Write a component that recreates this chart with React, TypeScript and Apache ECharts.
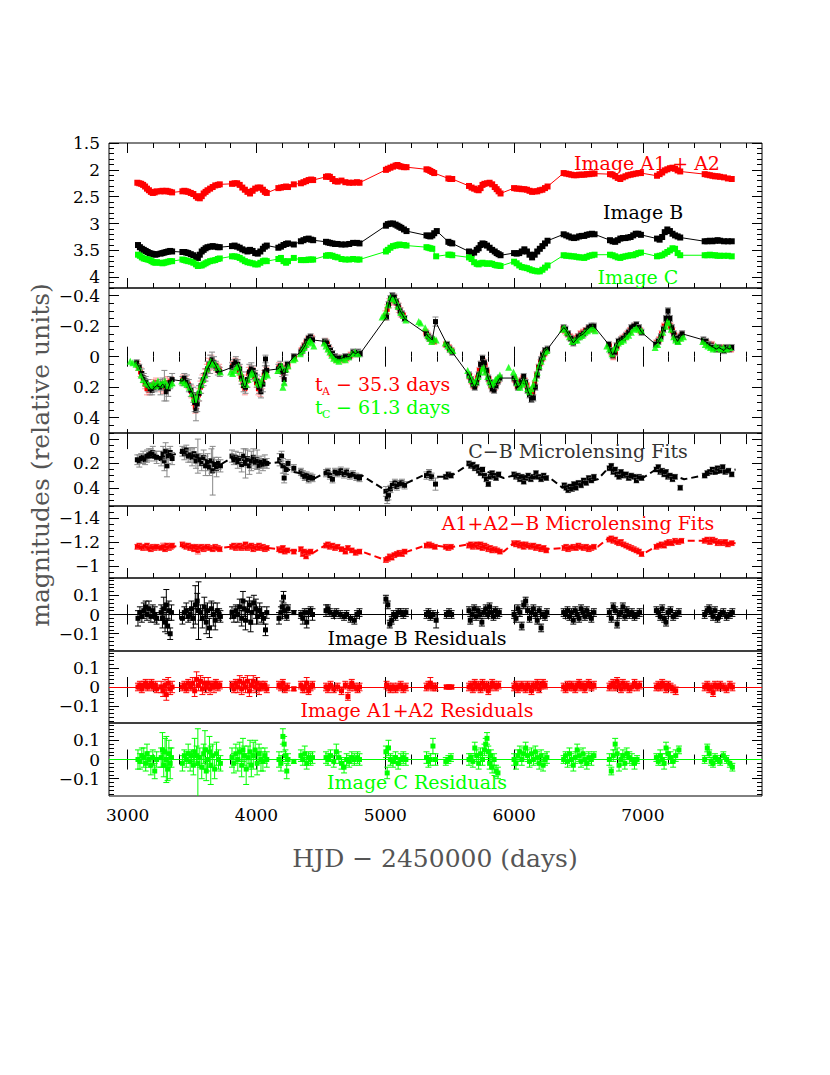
import React, { useEffect, useRef } from 'react';
import * as echarts from 'echarts';

// ---------------- DATA ----------------
const X_MIN = 2855;
const X_MAX = 7925;
const X_MAJOR_STEP = 1000;
const X_MINOR_STEP = 200;

// Panel 1: light curves [HJD-2450000, mag]
const MAG_A: number[][] = [
  [3075,2.24],[3090,2.25],[3105,2.26],[3120,2.28],[3135,2.31],[3150,2.35],[3165,2.38],[3180,2.41],[3195,2.43],[3210,2.42],[3225,2.40],
  [3255,2.40],[3270,2.39],[3285,2.40],[3300,2.39],[3315,2.40],[3330,2.41],[3345,2.42],
  [3425,2.40],[3440,2.39],[3455,2.40],[3470,2.41],[3490,2.43],[3510,2.45],[3530,2.49],[3545,2.52],[3560,2.53],[3575,2.49],[3590,2.44],[3605,2.41],[3620,2.38],[3640,2.35],[3660,2.32],[3680,2.29],[3700,2.28],[3715,2.27],
  [3810,2.26],[3830,2.25],[3850,2.25],[3870,2.28],[3890,2.33],[3910,2.37],[3930,2.41],[3950,2.44],[3970,2.39],[3990,2.35],[4010,2.33],[4030,2.33],[4050,2.37],[4065,2.41],[4080,2.43],
  [4170,2.34],[4190,2.33],[4210,2.32],[4230,2.31],[4245,2.32],
  [4290,2.27],
  [4345,2.25],[4365,2.23],[4385,2.21],[4405,2.19],[4425,2.18],[4440,2.19],
  [4540,2.13],[4555,2.12],[4570,2.13],[4590,2.17],[4610,2.21],[4630,2.22],[4660,2.20],[4690,2.23],[4720,2.24],[4750,2.24],[4780,2.23],[4800,2.24],
  [5005,2.00],[5020,1.98],[5040,1.96],[5060,1.94],[5080,1.92],[5095,1.91],[5110,1.93],[5125,1.94],[5145,1.95],[5165,1.95],
  [5320,1.99],[5335,2.00],[5350,2.02],[5365,2.04],[5380,2.06],
  [5490,2.16],[5505,2.17],[5520,2.17],
  [5650,2.30],[5670,2.33],[5690,2.35],[5710,2.37],[5725,2.38],[5740,2.34],[5755,2.28],[5770,2.26],[5790,2.25],[5810,2.24],[5830,2.27],[5850,2.32],[5865,2.36],[5880,2.40],[5895,2.44],
  [6000,2.34],[6020,2.35],[6040,2.35],[6060,2.36],[6080,2.36],[6100,2.37],[6120,2.39],[6140,2.41],[6160,2.40],[6180,2.40],[6200,2.38],[6220,2.37],[6240,2.34],[6260,2.31],
  [6385,2.06],[6405,2.07],[6425,2.08],[6445,2.09],[6465,2.10],[6485,2.10],[6505,2.09],[6525,2.09],[6545,2.09],[6565,2.08],[6585,2.08],[6605,2.07],[6625,2.07],
  [6745,2.08],[6765,2.09],[6785,2.12],[6805,2.15],[6825,2.17],[6845,2.14],[6865,2.12],[6885,2.10],[6905,2.09],[6925,2.08],[6945,2.07],[6965,2.06],[6985,2.06],
  [7110,2.11],[7130,2.08],[7150,2.05],[7170,2.01],[7190,1.99],[7210,1.97],[7230,1.96],[7250,1.98],[7270,2.01],[7290,2.03],
  [7480,2.08],[7500,2.09],[7520,2.10],[7540,2.11],[7560,2.12],[7580,2.12],[7600,2.13],[7630,2.14],[7660,2.16],[7690,2.17],
];
const MAG_B: number[][] = [
  [3080,3.40],[3095,3.44],[3110,3.47],[3125,3.49],[3140,3.51],[3155,3.53],[3170,3.55],[3185,3.56],[3200,3.57],[3215,3.58],[3228,3.57],
  [3255,3.56],[3270,3.55],[3285,3.54],[3300,3.53],[3315,3.52],[3330,3.51],[3345,3.52],
  [3425,3.53],[3440,3.53],[3455,3.54],[3470,3.55],[3490,3.57],[3510,3.59],[3530,3.62],[3545,3.64],[3560,3.58],[3575,3.52],[3590,3.49],[3605,3.46],[3620,3.44],[3640,3.43],[3660,3.42],[3680,3.43],[3700,3.44],[3715,3.44],
  [3810,3.42],[3830,3.41],[3850,3.43],[3870,3.45],[3890,3.48],[3910,3.50],[3930,3.52],[3950,3.49],[3970,3.51],[3990,3.55],[4010,3.56],[4030,3.52],[4050,3.47],[4065,3.43],[4080,3.41],
  [4170,3.45],[4190,3.43],[4210,3.40],[4230,3.38],[4245,3.37],
  [4290,3.39],
  [4345,3.33],[4365,3.31],[4385,3.29],[4405,3.28],[4425,3.30],[4440,3.31],
  [4540,3.34],[4555,3.35],[4570,3.36],[4590,3.37],[4610,3.38],[4630,3.38],[4660,3.39],[4690,3.39],[4720,3.38],[4750,3.36],[4780,3.36],[4800,3.37],
  [5005,3.04],[5020,3.01],[5040,3.00],[5060,3.00],[5080,3.02],[5095,3.04],[5110,3.06],[5125,3.08],[5145,3.11],[5165,3.14],
  [5320,3.22],[5335,3.23],[5350,3.24],[5365,3.22],[5380,3.18],[5400,3.14],
  [5490,3.34],[5505,3.36],[5520,3.37],
  [5650,3.52],[5670,3.56],[5690,3.54],[5710,3.49],[5725,3.46],[5740,3.40],[5755,3.37],[5770,3.38],[5790,3.41],[5810,3.45],[5830,3.49],[5850,3.52],[5865,3.55],[5880,3.57],[5895,3.59],
  [6000,3.55],[6020,3.56],[6040,3.55],[6060,3.52],[6080,3.48],[6100,3.52],[6120,3.58],[6140,3.63],[6160,3.58],[6180,3.52],[6200,3.47],[6220,3.42],[6240,3.37],[6260,3.32],
  [6385,3.20],[6405,3.22],[6425,3.24],[6445,3.26],[6465,3.27],[6485,3.26],[6505,3.24],[6525,3.23],[6545,3.23],[6565,3.21],[6585,3.20],[6605,3.19],[6625,3.20],
  [6745,3.31],[6765,3.33],[6785,3.34],[6805,3.31],[6825,3.28],[6845,3.27],[6865,3.27],[6885,3.26],[6905,3.25],[6925,3.22],[6945,3.19],[6965,3.19],[6985,3.21],
  [7110,3.28],[7130,3.30],[7150,3.25],[7170,3.16],[7190,3.11],[7210,3.14],[7230,3.19],[7250,3.22],[7270,3.24],[7290,3.26],
  [7480,3.33],[7500,3.33],[7520,3.32],[7540,3.33],[7560,3.32],[7580,3.31],[7600,3.32],[7630,3.33],[7660,3.33],[7690,3.33],
];
const MAG_C: number[][] = [
  [3080,3.58],[3095,3.60],[3110,3.63],[3125,3.65],[3140,3.66],[3155,3.67],[3170,3.68],[3185,3.70],[3200,3.72],[3215,3.73],[3228,3.72],
  [3255,3.73],[3270,3.74],[3285,3.73],[3300,3.72],[3315,3.71],[3330,3.70],[3345,3.70],
  [3425,3.67],[3440,3.68],[3455,3.69],[3470,3.70],[3490,3.71],[3510,3.73],[3530,3.76],[3545,3.79],[3560,3.78],[3575,3.78],[3590,3.76],[3605,3.74],[3620,3.72],[3640,3.70],[3660,3.69],[3680,3.68],[3700,3.66],[3715,3.65],
  [3810,3.61],[3830,3.61],[3850,3.62],[3870,3.64],[3890,3.67],[3910,3.70],[3930,3.72],[3950,3.73],[3970,3.74],[3990,3.76],[4010,3.76],[4030,3.73],[4050,3.70],[4065,3.69],[4080,3.70],
  [4170,3.66],[4190,3.64],[4210,3.70],[4230,3.73],[4245,3.70],
  [4290,3.64],
  [4345,3.68],[4365,3.68],[4385,3.68],[4405,3.67],[4425,3.67],[4440,3.67],
  [4540,3.60],[4555,3.59],[4570,3.59],[4590,3.60],[4610,3.62],[4630,3.63],[4660,3.66],[4690,3.67],[4720,3.67],[4750,3.66],[4780,3.67],[4800,3.67],
  [5005,3.52],[5020,3.49],[5040,3.45],[5060,3.42],[5080,3.41],[5095,3.40],[5110,3.39],[5125,3.40],[5145,3.40],[5165,3.41],
  [5320,3.44],[5335,3.45],[5350,3.46],[5365,3.47],[5395,3.61],
  [5490,3.58],[5505,3.58],[5520,3.59],
  [5650,3.63],[5670,3.66],[5690,3.72],[5710,3.75],[5725,3.76],[5740,3.74],[5755,3.73],[5770,3.74],[5790,3.75],[5810,3.74],[5830,3.75],[5850,3.77],[5865,3.78],[5880,3.78],[5895,3.79],
  [6000,3.71],[6020,3.74],[6040,3.78],[6060,3.81],[6080,3.82],[6100,3.83],[6120,3.85],[6140,3.87],[6160,3.88],[6180,3.89],[6200,3.89],[6220,3.86],[6240,3.82],[6260,3.78],
  [6385,3.59],[6405,3.60],[6425,3.60],[6445,3.61],[6465,3.61],[6485,3.62],[6505,3.63],[6525,3.63],[6545,3.64],[6565,3.62],[6585,3.60],[6605,3.59],[6625,3.58],
  [6745,3.58],[6765,3.59],[6785,3.61],[6805,3.63],[6825,3.64],[6845,3.62],[6865,3.61],[6885,3.60],[6905,3.59],[6925,3.59],[6945,3.57],[6965,3.55],[6985,3.54],
  [7110,3.61],[7130,3.60],[7150,3.59],[7170,3.56],[7190,3.53],[7210,3.50],[7230,3.46],[7250,3.47],[7270,3.55],[7290,3.59],
  [7480,3.59],[7500,3.59],[7520,3.58],[7540,3.59],[7560,3.59],[7580,3.60],[7600,3.60],[7630,3.60],[7660,3.60],[7690,3.61],
];

// Panel 2: shifted curves [x, value, error]
const SHIFT_B: number[][] = [
  [3070,0.04,0.02],[3090,0.07,0.02],[3110,0.11,0.03],[3125,0.14,0.03],[3140,0.16,0.03],[3160,0.19,0.04],[3175,0.21,0.04],[3190,0.22,0.03],[3210,0.20,0.03],[3225,0.19,0.03],
  [3255,0.20,0.05],[3270,0.18,0.04],[3285,0.19,0.10],[3300,0.23,0.06],[3315,0.21,0.05],[3330,0.17,0.04],[3345,0.15,0.04],
  [3425,0.16,0.03],[3440,0.14,0.03],[3460,0.16,0.04],[3475,0.19,0.04],[3490,0.22,0.04],
  [3510,0.25,0.05],[3520,0.30,0.06],[3530,0.35,0.07],[3540,0.31,0.05],[3555,0.24,0.05],[3570,0.19,0.05],[3590,0.15,0.04],[3605,0.12,0.04],[3620,0.08,0.05],[3640,0.05,0.06],[3655,0.02,0.05],[3670,0.04,0.04],[3685,0.06,0.03],[3700,0.09,0.03],[3715,0.10,0.03],
  [3810,0.07,0.03],[3825,0.05,0.03],[3840,0.03,0.03],[3855,0.05,0.03],[3870,0.08,0.03],[3885,0.14,0.04],[3900,0.19,0.04],[3915,0.20,0.04],[3930,0.15,0.05],[3945,0.10,0.05],[3960,0.08,0.04],[3975,0.09,0.03],[3990,0.12,0.03],[4005,0.16,0.04],[4020,0.20,0.04],[4035,0.23,0.04],[4050,0.18,0.05],[4065,0.10,0.04],[4070,0.015,0.025],[4080,0.09,0.03],
  [4170,0.08,0.03],[4185,0.06,0.03],[4200,0.10,0.03],[4215,0.15,0.03],[4225,0.09,0.03],[4240,0.05,0.02],
  [4290,0.00,0.02],
  [4345,-0.03,0.02],[4360,-0.05,0.02],[4375,-0.07,0.02],[4390,-0.10,0.02],[4405,-0.12,0.02],[4420,-0.13,0.02],[4435,-0.11,0.02],
  [4530,-0.10,0.02],[4545,-0.09,0.02],[4560,-0.06,0.02],[4575,-0.04,0.02],[4590,-0.02,0.02],[4610,0.00,0.02],[4630,0.01,0.02],[4660,0.01,0.02],[4690,0.00,0.02],[4720,0.00,0.02],[4750,-0.03,0.02],[4770,-0.02,0.02],[4790,-0.03,0.02],[4805,-0.02,0.02],
  [5010,-0.26,0.02],[5025,-0.34,0.02],[5040,-0.38,0.02],[5055,-0.40,0.02],[5070,-0.39,0.02],[5085,-0.36,0.02],[5100,-0.33,0.02],[5115,-0.30,0.02],[5130,-0.28,0.02],[5150,-0.25,0.02],
  [5320,-0.15,0.02],[5335,-0.13,0.02],[5350,-0.12,0.02],[5365,-0.11,0.02],[5390,-0.23,0.03],
  [5480,-0.08,0.02],[5500,-0.05,0.02],[5520,-0.03,0.02],
  [5650,0.12,0.02],[5665,0.15,0.02],[5680,0.18,0.02],[5695,0.20,0.02],[5710,0.17,0.02],[5725,0.12,0.02],[5740,0.05,0.02],[5755,0.01,0.02],[5770,0.04,0.02],[5785,0.09,0.02],[5800,0.14,0.02],[5815,0.17,0.02],[5830,0.21,0.02],[5845,0.22,0.02],[5860,0.19,0.02],[5875,0.16,0.02],[5890,0.14,0.02],
  [6000,0.14,0.02],[6015,0.17,0.02],[6030,0.20,0.02],[6045,0.19,0.02],[6060,0.16,0.02],[6075,0.13,0.02],[6090,0.17,0.02],[6105,0.22,0.02],[6120,0.25,0.02],[6135,0.28,0.02],[6150,0.27,0.02],[6165,0.20,0.02],[6180,0.12,0.02],[6195,0.07,0.02],[6210,0.02,0.02],[6225,-0.01,0.02],[6240,-0.04,0.02],[6260,-0.05,0.02],
  [6385,-0.19,0.02],[6400,-0.18,0.02],[6420,-0.15,0.02],[6440,-0.12,0.02],[6460,-0.09,0.02],[6480,-0.11,0.02],[6500,-0.13,0.02],[6520,-0.14,0.02],[6540,-0.15,0.02],[6560,-0.17,0.02],[6580,-0.19,0.02],[6600,-0.20,0.02],[6620,-0.20,0.02],
  [6735,-0.08,0.02],[6750,-0.04,0.02],[6765,-0.01,0.02],[6780,-0.03,0.02],[6795,-0.07,0.02],[6810,-0.10,0.02],[6830,-0.11,0.02],[6850,-0.12,0.02],[6870,-0.14,0.02],[6890,-0.16,0.02],[6910,-0.19,0.02],[6930,-0.20,0.02],[6950,-0.21,0.02],[6970,-0.19,0.02],[6990,-0.16,0.02],
  [7100,-0.08,0.02],[7120,-0.10,0.02],[7140,-0.13,0.02],[7160,-0.18,0.02],[7180,-0.25,0.02],[7195,-0.30,0.02],[7210,-0.25,0.02],[7225,-0.19,0.02],[7240,-0.15,0.02],[7255,-0.12,0.02],[7270,-0.10,0.02],[7290,-0.13,0.02],[7305,-0.15,0.02],
  [7470,-0.11,0.02],[7490,-0.10,0.02],[7510,-0.08,0.02],[7530,-0.07,0.02],[7550,-0.06,0.02],[7570,-0.05,0.02],[7590,-0.06,0.02],[7610,-0.05,0.02],[7630,-0.04,0.02],[7650,-0.06,0.02],[7670,-0.05,0.02],[7690,-0.06,0.02],
];
const SHIFT_A: number[][] = [
  [3080,0.06,0.03],[3100,0.10,0.03],[3120,0.14,0.03],[3135,0.18,0.03],[3150,0.21,0.04],[3165,0.22,0.03],[3180,0.20,0.03],[3200,0.18,0.03],[3220,0.17,0.03],
  [3260,0.19,0.04],[3280,0.20,0.04],[3295,0.18,0.04],[3310,0.17,0.04],[3335,0.16,0.03],
  [3430,0.15,0.03],[3450,0.16,0.03],[3470,0.18,0.03],[3495,0.23,0.04],[3515,0.28,0.04],[3525,0.33,0.04],[3535,0.30,0.04],[3550,0.25,0.04],[3565,0.20,0.04],[3580,0.16,0.04],[3600,0.12,0.04],[3615,0.09,0.04],[3630,0.05,0.04],[3650,0.03,0.04],[3665,0.05,0.03],[3690,0.07,0.03],[3710,0.08,0.03],
  [3815,0.06,0.03],[3835,0.04,0.03],[3850,0.05,0.03],[3865,0.09,0.03],[3880,0.13,0.03],[3895,0.17,0.03],[3910,0.21,0.04],[3925,0.16,0.04],[3940,0.11,0.04],[3955,0.09,0.03],[3970,0.10,0.03],[3985,0.13,0.03],[4000,0.17,0.03],[4015,0.21,0.04],[4030,0.22,0.04],[4045,0.17,0.04],[4060,0.12,0.03],[4075,0.10,0.03],
  [4175,0.07,0.03],[4195,0.08,0.03],[4210,0.11,0.03],[4230,0.07,0.03],[4245,0.06,0.02],
  [4295,0.01,0.02],
  [4350,-0.04,0.02],[4370,-0.07,0.02],[4385,-0.09,0.02],[4400,-0.11,0.02],[4415,-0.12,0.02],[4430,-0.12,0.02],
  [4535,-0.10,0.02],[4550,-0.08,0.02],[4565,-0.05,0.02],[4580,-0.02,0.02],[4600,0.00,0.02],[4620,0.02,0.02],[4645,0.01,0.02],[4670,0.02,0.02],[4700,0.01,0.02],[4730,-0.01,0.02],[4760,-0.02,0.02],[4785,-0.02,0.02],
  [5000,-0.27,0.03],[5015,-0.31,0.03],[5030,-0.35,0.03],[5045,-0.37,0.03],[5060,-0.38,0.03],[5075,-0.37,0.03],[5090,-0.35,0.03],[5105,-0.32,0.03],[5120,-0.29,0.03],[5140,-0.27,0.02],
  [5315,-0.16,0.02],[5330,-0.14,0.02],[5345,-0.12,0.02],[5360,-0.11,0.02],[5380,-0.10,0.02],
  [5470,-0.08,0.02],[5495,-0.06,0.02],[5515,-0.04,0.02],
  [5655,0.13,0.02],[5670,0.16,0.02],[5685,0.19,0.02],[5700,0.18,0.02],[5715,0.14,0.02],[5730,0.09,0.02],[5745,0.05,0.02],[5760,0.03,0.02],[5775,0.06,0.02],[5790,0.10,0.02],[5805,0.15,0.02],[5820,0.19,0.02],[5835,0.21,0.02],[5850,0.20,0.02],[5865,0.17,0.02],[5880,0.15,0.02],
  [6005,0.15,0.02],[6025,0.19,0.02],[6040,0.18,0.02],[6055,0.16,0.02],[6070,0.14,0.02],[6085,0.16,0.02],[6100,0.19,0.02],[6115,0.22,0.02],[6130,0.24,0.02],[6145,0.23,0.02],[6160,0.18,0.02],[6175,0.12,0.02],[6190,0.07,0.02],[6205,0.04,0.02],[6220,0.01,0.02],[6235,-0.02,0.02],[6250,-0.04,0.02],
  [6380,-0.18,0.02],[6395,-0.17,0.02],[6415,-0.15,0.02],[6435,-0.13,0.02],[6455,-0.10,0.02],[6475,-0.12,0.02],[6495,-0.13,0.02],[6515,-0.15,0.02],[6535,-0.16,0.02],[6555,-0.17,0.02],[6575,-0.18,0.02],[6595,-0.19,0.02],[6615,-0.18,0.02],
  [6740,-0.07,0.02],[6755,-0.03,0.02],[6770,0.00,0.02],[6785,-0.03,0.02],[6800,-0.07,0.02],[6820,-0.10,0.02],[6840,-0.12,0.02],[6860,-0.13,0.02],[6880,-0.15,0.02],[6900,-0.17,0.02],[6920,-0.19,0.02],[6940,-0.20,0.02],[6960,-0.19,0.02],[6980,-0.17,0.02],
  [7105,-0.09,0.02],[7125,-0.11,0.02],[7145,-0.15,0.02],[7165,-0.20,0.02],[7185,-0.24,0.02],[7200,-0.22,0.02],[7215,-0.20,0.02],[7230,-0.17,0.02],[7245,-0.14,0.02],[7260,-0.12,0.02],[7280,-0.12,0.02],[7300,-0.14,0.02],
  [7475,-0.10,0.02],[7495,-0.09,0.02],[7515,-0.08,0.02],[7535,-0.08,0.02],[7555,-0.06,0.02],[7575,-0.06,0.02],[7595,-0.05,0.02],[7615,-0.06,0.02],[7640,-0.05,0.02],[7665,-0.06,0.02],[7685,-0.05,0.02],
];
const SHIFT_C: number[][] = [
  [3020,0.03],[3040,0.04],[3065,0.05],[3085,0.07],[3105,0.12],[3120,0.15],[3140,0.17],[3160,0.18],[3180,0.19],[3200,0.17],[3220,0.19],[3235,0.16],
  [3255,0.18],[3270,0.17],[3290,0.16],[3310,0.19],[3330,0.18],[3345,0.17],
  [3420,0.16],[3440,0.17],[3460,0.18],[3480,0.20],[3500,0.24],[3515,0.27],[3525,0.28],[3540,0.26],[3555,0.22],[3570,0.18],[3585,0.15],[3600,0.12],[3615,0.08],[3630,0.05],[3645,0.03],[3660,0.04],[3680,0.05],[3700,0.07],[3720,0.10],
  [3800,0.10],[3815,0.11],[3830,0.09],[3845,0.07],[3860,0.06],[3875,0.10],[3890,0.14],[3905,0.17],[3920,0.18],[3935,0.15],[3950,0.12],[3965,0.10],[3980,0.11],[3995,0.14],[4010,0.17],[4025,0.18],[4040,0.16],[4055,0.13],[4070,0.11],[4085,0.12],
  [4165,0.09],[4180,0.07],[4195,0.06],[4205,0.20],[4215,0.17],[4230,0.08],[4245,0.06],
  [4285,0.02],[4300,0.01],
  [4340,-0.02],[4355,-0.04],[4370,-0.06],[4385,-0.08],[4400,-0.10],[4415,-0.11],[4430,-0.09],[4445,-0.07],
  [4525,-0.09],[4540,-0.07],[4555,-0.05],[4570,-0.03],[4585,-0.01],[4600,0.01],[4620,0.02],[4640,0.03],[4665,0.01],[4690,0.02],[4715,0.00],[4740,-0.02],[4765,-0.03],[4790,-0.02],
  [4975,-0.26],[4990,-0.27],[5005,-0.30],[5020,-0.34],[5040,-0.39],[5060,-0.38],[5080,-0.37],[5100,-0.33],[5120,-0.29],[5140,-0.27],[5160,-0.24],
  [5260,-0.23],[5275,-0.22],[5310,-0.19],[5330,-0.14],[5345,-0.12],[5360,-0.10],[5375,-0.12],[5395,-0.11],
  [5465,-0.09],[5485,-0.07],[5505,-0.05],[5525,-0.04],
  [5640,0.09],[5655,0.12],[5670,0.15],[5690,0.17],[5705,0.16],[5720,0.13],[5735,0.10],[5750,0.08],[5765,0.07],[5780,0.10],[5795,0.13],[5810,0.16],[5825,0.18],[5840,0.17],[5855,0.15],[5870,0.14],[5890,0.12],[5958,0.07],
  [5995,0.10],[6010,0.13],[6025,0.17],[6045,0.20],[6060,0.18],[6075,0.15],[6090,0.17],[6105,0.21],[6120,0.23],[6135,0.21],[6150,0.18],[6165,0.14],[6180,0.10],[6195,0.06],[6210,0.03],[6225,0.00],[6240,-0.03],[6255,-0.04],
  [6375,-0.18],[6390,-0.19],[6410,-0.16],[6430,-0.13],[6450,-0.10],[6470,-0.11],[6490,-0.11],[6510,-0.13],[6530,-0.14],[6550,-0.16],[6570,-0.17],[6590,-0.18],[6610,-0.19],[6630,-0.17],
  [6720,-0.07],[6740,-0.05],[6760,-0.02],[6775,-0.05],[6790,-0.06],[6810,-0.09],[6830,-0.10],[6850,-0.11],[6870,-0.13],[6890,-0.14],[6910,-0.16],[6930,-0.18],[6950,-0.19],[6970,-0.18],[6990,-0.17],
  [7095,-0.06],[7115,-0.08],[7135,-0.12],[7155,-0.16],[7175,-0.20],[7190,-0.23],[7205,-0.22],[7220,-0.18],[7240,-0.13],[7255,-0.11],[7275,-0.10],[7295,-0.12],[7315,-0.13],
  [7465,-0.10],[7485,-0.08],[7505,-0.07],[7525,-0.06],[7545,-0.05],[7565,-0.07],[7585,-0.06],[7605,-0.05],[7625,-0.06],[7650,-0.05],[7675,-0.06],
];

// Panel 3: C-B microlensing [x, value, error] and fit
const CB_PTS: number[][] = [
  [3075,0.17,0.04],[3090,0.18,0.05],[3105,0.16,0.04],[3120,0.15,0.05],[3135,0.17,0.04],[3150,0.14,0.05],[3165,0.13,0.05],[3180,0.12,0.04],[3195,0.11,0.05],[3210,0.14,0.04],[3225,0.15,0.05],
  [3260,0.16,0.06],[3275,0.12,0.06],[3285,0.18,0.08],[3295,0.10,0.07],[3305,0.22,0.09],[3315,0.14,0.06],[3330,0.11,0.05],[3345,0.16,0.05],
  [3425,0.10,0.04],[3440,0.12,0.05],[3455,0.09,0.04],[3470,0.14,0.05],[3485,0.13,0.06],[3500,0.15,0.07],
  [3515,0.12,0.05],[3530,0.18,0.06],[3545,0.14,0.14],[3560,0.17,0.05],[3575,0.20,0.06],[3590,0.15,0.06],[3605,0.22,0.08],[3620,0.19,0.07],[3635,0.23,0.07],[3650,0.18,0.10],[3660,0.26,0.20],[3675,0.21,0.06],[3690,0.24,0.07],[3705,0.20,0.05],[3720,0.22,0.05],
  [3810,0.14,0.05],[3825,0.17,0.04],[3840,0.15,0.05],[3855,0.19,0.05],[3870,0.16,0.05],[3885,0.21,0.06],[3900,0.14,0.06],[3915,0.20,0.12],[3930,0.16,0.07],[3945,0.22,0.07],[3960,0.18,0.08],[3975,0.15,0.07],[3990,0.19,0.05],[4005,0.17,0.08],[4020,0.22,0.06],[4035,0.19,0.05],[4050,0.21,0.05],[4065,0.18,0.05],[4080,0.20,0.04],
  [4180,0.17,0.05],[4195,0.14,0.04],[4205,0.22,0.06],[4215,0.32,0.04],[4230,0.25,0.04],[4245,0.20,0.03],
  [4290,0.24,0.03],
  [4345,0.27,0.03],[4360,0.29,0.03],[4375,0.31,0.03],[4390,0.30,0.03],[4405,0.33,0.03],[4420,0.31,0.03],[4435,0.32,0.03],
  [4540,0.28,0.03],[4555,0.27,0.03],[4570,0.30,0.03],[4590,0.33,0.03],[4610,0.27,0.03],[4630,0.28,0.03],[4655,0.26,0.03],[4680,0.29,0.03],[4700,0.27,0.03],[4725,0.30,0.03],[4750,0.29,0.03],[4775,0.31,0.03],[4800,0.32,0.03],
  [5005,0.43,0.04],[5015,0.49,0.04],[5025,0.46,0.04],[5040,0.41,0.03],[5055,0.38,0.03],[5075,0.36,0.03],[5090,0.39,0.03],[5110,0.37,0.03],[5130,0.36,0.03],[5150,0.38,0.03],
  [5320,0.30,0.03],[5340,0.28,0.03],[5360,0.31,0.03],[5390,0.37,0.05],
  [5470,0.31,0.02],[5490,0.29,0.02],[5510,0.30,0.02],
  [5650,0.20,0.02],[5665,0.22,0.02],[5680,0.21,0.02],[5695,0.24,0.02],[5710,0.23,0.02],[5725,0.26,0.02],[5740,0.28,0.02],[5755,0.25,0.02],[5770,0.30,0.02],[5785,0.33,0.02],[5800,0.37,0.02],[5815,0.31,0.02],[5830,0.28,0.02],[5845,0.30,0.02],[5860,0.32,0.02],[5880,0.29,0.02],
  [6000,0.29,0.02],[6015,0.31,0.02],[6030,0.30,0.02],[6045,0.33,0.02],[6060,0.31,0.02],[6075,0.35,0.02],[6090,0.32,0.02],[6110,0.30,0.02],[6130,0.33,0.02],[6150,0.31,0.02],[6170,0.28,0.02],[6190,0.31,0.02],[6210,0.33,0.02],[6230,0.30,0.02],[6250,0.32,0.02],
  [6390,0.38,0.02],[6405,0.40,0.02],[6420,0.42,0.02],[6435,0.39,0.02],[6450,0.41,0.02],[6465,0.37,0.02],[6480,0.40,0.02],[6500,0.36,0.02],[6520,0.38,0.02],[6540,0.34,0.02],[6560,0.36,0.02],[6580,0.32,0.02],[6600,0.34,0.02],[6620,0.31,0.02],
  [6740,0.24,0.02],[6755,0.22,0.02],[6770,0.27,0.02],[6785,0.25,0.02],[6800,0.29,0.02],[6815,0.31,0.02],[6830,0.27,0.02],[6850,0.30,0.02],[6870,0.29,0.02],[6890,0.32,0.02],[6910,0.30,0.02],[6930,0.31,0.02],[6950,0.34,0.02],[6970,0.31,0.02],[6990,0.32,0.02],
  [7105,0.25,0.02],[7120,0.23,0.02],[7135,0.27,0.02],[7150,0.26,0.02],[7165,0.29,0.02],[7180,0.27,0.02],[7195,0.31,0.02],[7210,0.30,0.02],[7230,0.33,0.02],[7250,0.31,0.02],[7290,0.40,0.02],
  [7480,0.30,0.02],[7500,0.28,0.02],[7520,0.27,0.02],[7540,0.25,0.02],[7560,0.27,0.02],[7580,0.24,0.02],[7600,0.26,0.02],[7620,0.23,0.02],[7640,0.27,0.02],[7665,0.26,0.02],[7690,0.29,0.02],
];
const CB_FIT: number[][] = [
  [3070,0.17],[3230,0.14],[3250,0.15],[3350,0.13],[3420,0.11],[3720,0.21],[3800,0.16],[4090,0.20],[4170,0.19],[4250,0.25],[4290,0.27],[4340,0.28],[4440,0.33],[4530,0.28],[4820,0.30],[5000,0.42],[5170,0.36],[5310,0.29],[5400,0.31],[5465,0.31],[5530,0.29],[5645,0.21],[5920,0.32],[5995,0.30],[6280,0.32],[6375,0.40],[6650,0.33],[6730,0.24],[7000,0.32],[7100,0.25],[7320,0.33],[7470,0.30],[7720,0.25],
];

// Panel 4: A1+A2-B microlensing [x, value, error] and fit
const AB_PTS: number[][] = [
  [3075,-1.16,0.02],[3090,-1.17,0.02],[3105,-1.16,0.02],[3120,-1.15,0.02],[3135,-1.16,0.02],[3150,-1.17,0.02],[3165,-1.15,0.02],[3180,-1.14,0.02],[3195,-1.16,0.02],[3210,-1.15,0.02],[3225,-1.16,0.02],
  [3260,-1.15,0.02],[3275,-1.16,0.03],[3290,-1.14,0.02],[3305,-1.17,0.02],[3320,-1.15,0.02],[3335,-1.16,0.02],[3345,-1.17,0.02],
  [3425,-1.18,0.02],[3440,-1.17,0.02],[3455,-1.16,0.02],[3470,-1.17,0.02],[3485,-1.15,0.02],[3500,-1.16,0.02],[3515,-1.14,0.02],[3530,-1.16,0.02],[3545,-1.13,0.03],[3560,-1.15,0.02],[3575,-1.16,0.02],[3590,-1.14,0.02],[3605,-1.15,0.02],[3620,-1.16,0.02],[3640,-1.15,0.02],[3660,-1.14,0.02],[3680,-1.16,0.02],[3700,-1.15,0.02],[3715,-1.14,0.02],
  [3810,-1.16,0.02],[3825,-1.17,0.02],[3840,-1.15,0.02],[3855,-1.16,0.02],[3870,-1.17,0.02],[3885,-1.15,0.02],[3900,-1.16,0.02],[3915,-1.18,0.02],[3930,-1.15,0.02],[3945,-1.16,0.02],[3960,-1.17,0.02],[3975,-1.14,0.02],[3990,-1.16,0.02],[4005,-1.15,0.02],[4020,-1.17,0.02],[4035,-1.15,0.02],[4050,-1.16,0.02],[4065,-1.14,0.02],[4080,-1.15,0.02],
  [4175,-1.14,0.02],[4190,-1.13,0.02],[4205,-1.15,0.02],[4220,-1.12,0.02],[4240,-1.13,0.02],
  [4290,-1.12,0.02],
  [4345,-1.14,0.02],[4360,-1.10,0.02],[4370,-1.12,0.02],[4385,-1.08,0.02],[4400,-1.11,0.02],[4420,-1.12,0.02],
  [4540,-1.17,0.02],[4555,-1.18,0.02],[4570,-1.16,0.02],[4590,-1.17,0.02],[4610,-1.15,0.02],[4630,-1.16,0.02],[4660,-1.14,0.02],[4690,-1.12,0.02],[4710,-1.15,0.02],[4740,-1.13,0.02],[4770,-1.11,0.02],[4800,-1.12,0.02],
  [5005,-1.05,0.02],[5020,-1.06,0.02],[5035,-1.08,0.02],[5050,-1.07,0.02],[5070,-1.09,0.02],[5090,-1.10,0.02],[5110,-1.11,0.02],[5130,-1.10,0.02],[5150,-1.12,0.02],
  [5320,-1.17,0.02],[5340,-1.18,0.02],[5360,-1.17,0.02],[5385,-1.16,0.02],
  [5470,-1.16,0.02],[5490,-1.15,0.02],[5510,-1.16,0.02],
  [5650,-1.17,0.02],[5665,-1.18,0.02],[5680,-1.16,0.02],[5695,-1.17,0.02],[5710,-1.18,0.02],[5725,-1.16,0.02],[5740,-1.18,0.02],[5755,-1.15,0.02],[5770,-1.17,0.02],[5785,-1.16,0.02],[5800,-1.14,0.02],[5815,-1.15,0.02],[5830,-1.13,0.02],[5850,-1.14,0.02],[5870,-1.13,0.02],[5890,-1.12,0.02],
  [6000,-1.19,0.02],[6015,-1.18,0.02],[6030,-1.19,0.02],[6045,-1.17,0.02],[6060,-1.18,0.02],[6075,-1.16,0.02],[6090,-1.18,0.02],[6110,-1.17,0.02],[6130,-1.16,0.02],[6150,-1.17,0.02],[6170,-1.15,0.02],[6190,-1.16,0.02],[6210,-1.14,0.02],[6230,-1.15,0.02],[6250,-1.13,0.02],
  [6390,-1.15,0.02],[6405,-1.16,0.02],[6420,-1.14,0.02],[6440,-1.15,0.02],[6460,-1.16,0.02],[6480,-1.15,0.02],[6500,-1.17,0.02],[6520,-1.16,0.02],[6540,-1.15,0.02],[6560,-1.16,0.02],[6580,-1.14,0.02],[6600,-1.15,0.02],[6620,-1.16,0.02],
  [6740,-1.22,0.02],[6755,-1.23,0.02],[6770,-1.21,0.02],[6785,-1.22,0.02],[6800,-1.20,0.02],[6815,-1.19,0.02],[6830,-1.20,0.02],[6850,-1.18,0.02],[6870,-1.17,0.02],[6890,-1.16,0.02],[6910,-1.15,0.02],[6930,-1.14,0.02],[6950,-1.13,0.02],[6970,-1.12,0.02],[6990,-1.10,0.02],
  [7105,-1.16,0.02],[7125,-1.17,0.02],[7145,-1.18,0.02],[7165,-1.17,0.02],[7185,-1.19,0.02],[7205,-1.20,0.02],[7225,-1.19,0.02],[7250,-1.21,0.02],[7275,-1.20,0.02],[7300,-1.21,0.02],
  [7480,-1.21,0.02],[7500,-1.22,0.02],[7520,-1.20,0.02],[7540,-1.22,0.02],[7560,-1.21,0.02],[7580,-1.19,0.02],[7600,-1.20,0.02],[7620,-1.19,0.02],[7640,-1.20,0.02],[7660,-1.18,0.02],[7690,-1.19,0.02],
];
const AB_FIT: number[][] = [
  [3070,-1.16],[3230,-1.15],[3250,-1.16],[3350,-1.16],[3420,-1.17],[3720,-1.15],[3800,-1.16],[4090,-1.15],[4170,-1.14],[4250,-1.13],[4340,-1.13],[4440,-1.11],[4530,-1.17],[4820,-1.12],[5000,-1.05],[5170,-1.12],[5310,-1.17],[5400,-1.17],[5465,-1.16],[5530,-1.16],[5645,-1.18],[5920,-1.12],[5995,-1.19],[6280,-1.14],[6375,-1.15],[6650,-1.16],[6730,-1.23],[7000,-1.10],[7100,-1.16],[7320,-1.21],[7470,-1.21],[7720,-1.19],
];

// Panels 5-7: residuals [x, value, error]
const RES_B: number[][] = [
  [3080,-0.02,0.04],[3095,0.01,0.03],[3110,-0.01,0.03],[3125,0.02,0.04],[3140,0.04,0.03],[3150,0.00,0.03],[3165,0.03,0.04],[3180,-0.01,0.03],[3195,0.02,0.03],[3210,0.00,0.04],[3225,-0.02,0.03],
  [3260,0.01,0.04],[3270,-0.02,0.05],[3280,0.03,0.06],[3290,-0.04,0.05],[3300,0.05,0.08],[3310,-0.06,0.04],[3320,0.02,0.05],[3330,-0.10,0.03],[3340,0.01,0.04],
  [3425,-0.02,0.03],[3440,0.01,0.03],[3455,0.02,0.04],[3470,-0.01,0.03],[3485,0.00,0.03],[3495,0.03,0.04],
  [3510,-0.02,0.05],[3525,0.05,0.10],[3540,0.07,0.04],[3550,0.02,0.15],[3565,0.01,0.04],[3580,-0.02,0.05],[3595,0.04,0.05],[3610,-0.04,0.06],[3620,0.02,0.04],[3635,-0.07,0.05],[3650,0.03,0.04],[3665,0.00,0.06],[3680,-0.03,0.05],[3695,0.02,0.04],[3710,0.00,0.03],[3720,-0.01,0.03],
  [3810,0.01,0.03],[3825,-0.01,0.03],[3840,0.02,0.03],[3855,0.00,0.04],[3870,0.04,0.04],[3885,-0.02,0.04],[3895,0.07,0.05],[3905,0.03,0.04],[3915,-0.03,0.05],[3930,0.02,0.05],[3945,0.05,0.04],[3955,-0.04,0.05],[3965,0.01,0.06],[3980,0.06,0.04],[3995,0.03,0.05],[4010,-0.01,0.04],[4025,0.02,0.04],[4040,0.00,0.04],[4055,-0.02,0.03],[4070,-0.08,0.03],[4080,0.01,0.03],
  [4175,-0.02,0.03],[4190,0.01,0.03],[4200,0.04,0.03],[4210,0.09,0.03],[4220,0.02,0.03],[4235,-0.01,0.02],[4245,0.03,0.02],
  [4290,0.01,0.01],
  [4345,0.00,0.02],[4360,-0.02,0.03],[4375,0.01,0.02],[4390,-0.04,0.03],[4405,0.01,0.02],[4420,0.02,0.02],[4435,0.00,0.03],
  [4540,0.02,0.03],[4555,0.03,0.02],[4570,0.01,0.02],[4600,0.00,0.02],[4620,0.01,0.02],[4650,0.00,0.02],[4680,-0.01,0.02],[4700,0.00,0.02],[4730,-0.02,0.02],[4760,-0.03,0.02],[4780,0.00,0.02],[4800,0.01,0.02],
  [5005,0.08,0.02],[5020,0.05,0.02],[5035,-0.05,0.02],[5050,-0.03,0.02],[5065,0.00,0.02],[5080,-0.01,0.02],[5100,0.01,0.02],[5120,0.01,0.02],[5140,0.00,0.02],[5160,0.01,0.02],
  [5320,0.00,0.02],[5335,0.01,0.02],[5350,-0.01,0.02],[5370,0.00,0.02],[5395,-0.03,0.04],
  [5475,0.00,0.02],[5495,0.01,0.02],[5515,0.00,0.02],
  [5650,0.02,0.02],[5660,-0.03,0.02],[5675,0.00,0.02],[5690,0.03,0.02],[5705,-0.01,0.02],[5720,0.02,0.02],[5735,0.00,0.02],[5750,-0.04,0.02],[5765,0.01,0.02],[5780,0.03,0.02],[5795,0.00,0.02],[5810,0.04,0.02],[5825,0.01,0.02],[5840,-0.01,0.02],[5855,0.02,0.02],[5870,0.00,0.02],[5885,0.01,0.02],
  [6000,0.00,0.02],[6015,-0.02,0.02],[6030,0.03,0.02],[6045,0.01,0.02],[6060,-0.06,0.02],[6075,0.05,0.02],[6090,0.07,0.02],[6105,0.02,0.02],[6120,-0.02,0.02],[6135,0.01,0.02],[6150,0.03,0.02],[6165,0.00,0.02],[6180,-0.03,0.02],[6195,0.02,0.02],[6210,-0.07,0.02],[6225,0.00,0.02],[6240,-0.01,0.02],[6255,0.01,0.02],
  [6385,0.01,0.02],[6400,0.00,0.02],[6415,0.02,0.02],[6430,-0.01,0.02],[6445,0.01,0.02],[6460,-0.03,0.02],[6475,0.02,0.02],[6490,0.00,0.02],[6505,-0.02,0.02],[6520,0.03,0.02],[6535,0.01,0.02],[6550,-0.01,0.02],[6565,0.02,0.02],[6580,0.00,0.02],[6600,-0.02,0.02],[6620,0.01,0.02],
  [6740,0.01,0.02],[6755,-0.02,0.02],[6770,0.04,0.02],[6785,0.02,0.02],[6800,-0.05,0.02],[6815,0.00,0.02],[6830,0.01,0.02],[6845,0.04,0.02],[6860,-0.01,0.02],[6875,0.02,0.02],[6895,0.00,0.02],[6915,0.01,0.02],[6935,-0.01,0.02],[6955,0.00,0.02],[6975,0.01,0.02],
  [7105,0.02,0.02],[7120,0.01,0.02],[7135,-0.01,0.02],[7150,0.03,0.02],[7165,-0.02,0.02],[7180,-0.04,0.02],[7195,0.01,0.02],[7215,0.02,0.02],[7235,-0.01,0.02],[7255,0.00,0.02],[7280,0.01,0.02],
  [7480,0.00,0.02],[7500,0.02,0.02],[7515,0.03,0.02],[7530,0.01,0.02],[7545,-0.01,0.02],[7560,0.02,0.02],[7580,-0.02,0.02],[7600,0.00,0.02],[7625,0.01,0.02],[7650,-0.01,0.02],[7675,0.00,0.02],[7695,0.01,0.02],
];
const RES_A: number[][] = [
  [3080,0.00,0.02],[3095,0.01,0.02],[3110,-0.01,0.02],[3125,0.01,0.02],[3140,0.02,0.02],[3155,0.00,0.02],[3170,0.01,0.02],[3185,0.02,0.02],[3200,0.00,0.02],[3215,0.01,0.02],[3225,-0.01,0.02],
  [3260,0.00,0.03],[3275,-0.02,0.03],[3290,0.01,0.03],[3300,-0.04,0.03],[3315,0.02,0.03],[3330,-0.01,0.03],[3345,0.00,0.03],
  [3425,0.00,0.02],[3440,0.01,0.02],[3455,-0.01,0.02],[3470,0.02,0.02],[3490,0.00,0.02],[3505,0.02,0.03],[3520,-0.02,0.03],[3535,0.04,0.04],[3550,0.01,0.03],[3565,0.03,0.03],[3580,-0.01,0.03],[3595,0.02,0.03],[3610,0.00,0.03],[3625,0.02,0.03],[3640,-0.01,0.03],[3655,0.01,0.02],[3670,0.00,0.03],[3685,0.02,0.02],[3700,0.00,0.02],[3715,0.01,0.02],
  [3810,0.01,0.02],[3825,-0.01,0.02],[3840,0.02,0.02],[3855,0.00,0.03],[3870,0.03,0.03],[3885,-0.01,0.03],[3900,0.02,0.03],[3915,0.00,0.03],[3930,0.03,0.03],[3945,-0.02,0.03],[3960,0.01,0.03],[3975,0.03,0.03],[3990,0.00,0.03],[4005,0.02,0.03],[4020,-0.01,0.03],[4035,0.01,0.02],[4050,0.00,0.02],[4065,0.01,0.02],[4080,-0.01,0.02],
  [4175,0.01,0.02],[4190,0.00,0.02],[4205,0.02,0.02],[4220,-0.01,0.02],[4240,0.00,0.02],
  [4290,-0.01,0.01],
  [4345,0.01,0.02],[4360,-0.01,0.02],[4375,0.00,0.03],[4390,0.02,0.03],[4405,-0.02,0.02],[4420,0.00,0.02],[4435,0.01,0.02],
  [4540,0.00,0.02],[4555,-0.01,0.02],[4575,0.01,0.02],[4600,-0.01,0.02],[4630,0.00,0.02],[4660,-0.02,0.02],[4690,0.01,0.02],[4710,-0.05,0.02],[4725,0.00,0.02],[4740,0.02,0.02],[4760,0.00,0.02],[4785,-0.01,0.02],[4800,0.00,0.02],
  [5010,0.01,0.02],[5025,0.00,0.02],[5040,-0.01,0.02],[5060,0.00,0.02],[5080,-0.01,0.02],[5100,0.00,0.02],[5120,0.01,0.02],[5140,-0.01,0.02],[5160,0.00,0.02],
  [5320,0.00,0.02],[5335,0.01,0.02],[5350,0.02,0.03],[5370,0.00,0.02],[5390,0.00,0.02],
  [5475,0.00,0.01],[5495,0.00,0.01],[5515,0.00,0.01],
  [5650,0.00,0.02],[5665,0.01,0.02],[5680,-0.01,0.02],[5695,0.02,0.02],[5710,0.00,0.02],[5725,0.01,0.02],[5740,-0.01,0.02],[5755,0.02,0.02],[5770,0.00,0.02],[5785,0.01,0.02],[5800,-0.02,0.02],[5815,0.00,0.02],[5830,0.02,0.02],[5845,0.01,0.02],[5860,0.00,0.02],[5880,0.01,0.02],
  [6000,0.00,0.02],[6015,0.01,0.02],[6030,-0.01,0.02],[6045,0.00,0.02],[6060,0.01,0.02],[6075,0.00,0.02],[6090,-0.01,0.02],[6105,0.01,0.02],[6120,0.00,0.02],[6135,-0.02,0.02],[6150,0.01,0.02],[6165,0.00,0.02],[6180,0.02,0.02],[6195,-0.01,0.02],[6210,0.01,0.02],[6225,0.02,0.02],[6240,0.01,0.02],
  [6385,0.00,0.02],[6400,-0.01,0.02],[6415,0.01,0.02],[6430,0.00,0.02],[6445,0.01,0.02],[6460,0.00,0.02],[6475,-0.01,0.02],[6490,0.01,0.02],[6505,0.02,0.02],[6520,0.00,0.02],[6535,0.01,0.02],[6550,-0.01,0.02],[6565,0.01,0.02],[6580,0.02,0.02],[6600,0.00,0.02],[6620,0.01,0.02],
  [6740,0.00,0.02],[6755,0.01,0.02],[6770,0.02,0.02],[6785,0.00,0.02],[6800,0.03,0.02],[6815,0.01,0.02],[6830,-0.01,0.02],[6845,0.02,0.02],[6860,0.00,0.02],[6875,0.01,0.02],[6895,-0.01,0.02],[6915,0.00,0.02],[6935,0.02,0.02],[6955,0.00,0.02],[6975,0.01,0.02],
  [7105,0.00,0.02],[7120,0.01,0.02],[7135,0.00,0.02],[7150,0.02,0.02],[7165,0.01,0.02],[7180,-0.01,0.02],[7195,0.01,0.02],[7215,0.00,0.02],[7235,-0.01,0.02],[7255,-0.02,0.02],
  [7480,0.00,0.02],[7500,0.01,0.02],[7515,-0.01,0.02],[7530,0.00,0.02],[7545,-0.03,0.02],[7560,0.01,0.02],[7580,0.00,0.02],[7600,0.01,0.02],[7625,0.00,0.02],[7650,-0.01,0.02],[7675,0.01,0.02],[7695,0.00,0.02],
];
const RES_C: number[][] = [
  [3080,0.00,0.05],[3095,-0.01,0.04],[3110,0.02,0.04],[3125,0.01,0.05],[3140,-0.02,0.04],[3150,0.03,0.05],[3165,0.00,0.04],[3180,-0.03,0.05],[3195,0.01,0.04],[3210,-0.06,0.04],[3225,0.00,0.04],
  [3260,0.01,0.05],[3270,0.05,0.09],[3280,-0.03,0.06],[3290,0.04,0.07],[3300,0.00,0.12],[3310,-0.05,0.06],[3320,0.03,0.07],[3330,-0.02,0.08],[3340,0.01,0.05],
  [3425,-0.02,0.04],[3440,0.02,0.03],[3455,0.00,0.04],[3470,0.03,0.05],[3485,-0.01,0.05],[3495,0.02,0.03],
  [3510,-0.03,0.05],[3520,0.04,0.07],[3535,0.02,0.05],[3545,-0.02,0.18],[3560,0.01,0.05],[3575,-0.04,0.06],[3590,0.03,0.05],[3600,0.05,0.10],[3610,-0.06,0.05],[3620,0.00,0.06],[3635,0.04,0.08],[3645,-0.03,0.10],[3660,0.02,0.06],[3675,-0.05,0.05],[3690,0.03,0.06],[3705,0.00,0.05],[3720,-0.02,0.04],
  [3810,0.01,0.05],[3825,-0.02,0.05],[3840,0.03,0.05],[3855,0.00,0.06],[3870,0.04,0.05],[3885,-0.03,0.06],[3895,0.05,0.06],[3905,0.02,0.05],[3920,-0.05,0.08],[3935,0.01,0.06],[3950,0.04,0.06],[3960,-0.03,0.06],[3975,0.02,0.07],[3990,0.05,0.05],[4005,-0.02,0.06],[4020,0.03,0.05],[4035,0.00,0.06],[4050,-0.01,0.05],[4065,0.02,0.04],[4080,0.00,0.04],
  [4175,0.00,0.04],[4190,-0.02,0.04],[4205,0.12,0.04],[4215,0.08,0.04],[4225,0.02,0.03],[4235,-0.06,0.04],[4245,0.00,0.03],
  [4290,-0.01,0.01],
  [4345,0.02,0.03],[4360,0.00,0.03],[4375,0.03,0.04],[4390,-0.02,0.03],[4405,0.01,0.03],[4420,0.00,0.03],[4435,0.01,0.03],
  [4540,0.01,0.03],[4555,0.00,0.03],[4575,0.02,0.03],[4600,-0.01,0.03],[4620,0.04,0.04],[4640,0.01,0.03],[4660,-0.02,0.03],[4680,-0.04,0.03],[4700,0.00,0.03],[4720,-0.01,0.03],[4740,0.01,0.03],[4760,0.00,0.03],[4785,0.01,0.03],[4800,0.00,0.03],
  [5005,0.04,0.03],[5015,-0.07,0.03],[5025,0.06,0.04],[5040,0.00,0.03],[5060,-0.01,0.03],[5080,0.01,0.03],[5100,-0.02,0.03],[5120,0.00,0.03],[5140,0.01,0.03],[5160,0.00,0.03],
  [5320,0.01,0.03],[5335,-0.01,0.03],[5350,0.00,0.03],[5370,0.07,0.04],[5390,0.00,0.03],
  [5470,-0.01,0.02],[5490,0.00,0.02],[5510,0.01,0.02],
  [5650,0.00,0.03],[5665,0.01,0.02],[5680,-0.01,0.03],[5695,0.06,0.03],[5710,0.02,0.03],[5725,-0.02,0.03],[5740,0.03,0.03],[5755,0.00,0.03],[5770,0.05,0.03],[5780,0.08,0.03],[5790,0.11,0.03],[5800,0.04,0.03],[5810,-0.02,0.03],[5820,0.02,0.03],[5830,-0.04,0.03],[5845,0.00,0.03],[5860,-0.06,0.03],[5875,-0.07,0.03],
  [6000,0.00,0.03],[6015,-0.02,0.03],[6030,0.02,0.03],[6045,0.04,0.03],[6060,0.00,0.03],[6075,0.03,0.03],[6090,0.06,0.03],[6105,0.02,0.03],[6120,-0.01,0.03],[6135,0.03,0.03],[6150,0.00,0.03],[6165,0.04,0.03],[6180,0.01,0.03],[6195,-0.02,0.03],[6210,0.02,0.03],[6225,-0.03,0.03],[6240,0.00,0.03],[6255,0.01,0.03],
  [6385,0.00,0.02],[6400,0.02,0.02],[6415,-0.01,0.03],[6430,0.03,0.03],[6445,0.00,0.03],[6460,-0.03,0.03],[6475,0.01,0.03],[6490,0.05,0.03],[6505,0.02,0.03],[6520,-0.01,0.03],[6535,0.03,0.03],[6550,0.00,0.03],[6565,-0.02,0.03],[6580,0.01,0.03],[6600,0.00,0.03],[6620,0.02,0.02],
  [6740,0.00,0.03],[6755,-0.06,0.02],[6770,0.02,0.03],[6785,0.08,0.03],[6800,0.03,0.03],[6815,-0.03,0.03],[6830,0.00,0.03],[6845,0.02,0.03],[6860,-0.02,0.03],[6875,0.03,0.03],[6895,0.01,0.03],[6915,0.00,0.03],[6935,-0.02,0.03],[6955,0.00,0.02],
  [7105,0.01,0.02],[7120,-0.01,0.02],[7135,0.02,0.03],[7150,0.00,0.03],[7165,-0.02,0.03],[7180,0.06,0.03],[7195,0.03,0.03],[7215,0.01,0.03],[7235,-0.01,0.03],[7255,0.02,0.03],[7280,0.05,0.02],
  [7480,0.00,0.02],[7500,0.06,0.02],[7515,0.03,0.02],[7530,-0.01,0.02],[7545,-0.02,0.02],[7560,0.01,0.02],[7580,0.00,0.02],[7600,-0.01,0.02],[7625,0.02,0.02],[7650,0.00,0.02],[7675,-0.02,0.02],[7695,-0.04,0.02],
];

// ---------------- LAYOUT / STYLE ----------------
const FONT = 'DejaVu Serif';
const RED = '#ff0000';
const GREEN = '#00ff00';
const BLACK = '#000000';
const GRID_LEFT = 109;
const GRID_RIGHT = 68;

const PANELS = [
  { top: 143, height: 145, min: 1.5, max: 4.2, major: 0.5, minor: 0.1, inverse: true },
  { top: 288, height: 145, min: -0.45, max: 0.5, major: 0.2, minor: 0.05, inverse: true },
  { top: 433, height: 73, min: -0.05, max: 0.55, major: 0.2, minor: 0.05, inverse: true },
  { top: 506, height: 72, min: -1.5, max: -0.9, major: 0.2, minor: 0.05, inverse: true },
  { top: 578, height: 73, min: -0.19, max: 0.19, major: 0.1, minor: 0.02, inverse: false },
  { top: 651, height: 72, min: -0.19, max: 0.19, major: 0.1, minor: 0.02, inverse: false },
  { top: 723, height: 73, min: -0.19, max: 0.19, major: 0.1, minor: 0.02, inverse: false },
];

function ticksBetween(min: number, max: number, step: number): number[] {
  const out: number[] = [];
  const start = Math.ceil(min / step - 1e-9);
  for (let k = start; k * step <= max + 1e-9; k++) out.push(Math.round(k * step * 1e6) / 1e6);
  return out;
}

const fmt = (v: number) => {
  const r = Math.round(v * 1000) / 1000;
  const s = String(Math.abs(r));
  return r < 0 ? '\u2212' + s : s;
};

function buildOption() {
  const grids: any[] = [];
  const xAxes: any[] = [];
  const yAxes: any[] = [];
  const xMaj = ticksBetween(X_MIN, X_MAX, X_MAJOR_STEP);
  const xMin = ticksBetween(X_MIN, X_MAX, X_MINOR_STEP);
  const last = PANELS.length - 1;

  PANELS.forEach((p, i) => {
    grids.push({
      left: GRID_LEFT, right: GRID_RIGHT, top: p.top, height: p.height,
      show: true, borderColor: '#000', borderWidth: 1, backgroundColor: 'transparent',
    });
    const yMaj = ticksBetween(p.min, p.max, p.major);
    const yMin = ticksBetween(p.min, p.max, p.minor);
    const xBase = (position: string, ticks: number[], len: number, labels: boolean) => ({
      gridIndex: i, type: 'value', min: X_MIN, max: X_MAX, position,
      axisLine: { show: false }, splitLine: { show: false },
      axisTick: { show: true, inside: true, length: len, customValues: ticks, lineStyle: { color: '#000', width: 1 } },
      axisLabel: labels
        ? { show: true, customValues: xMaj, color: '#000', fontFamily: FONT, fontSize: 17, margin: 10, formatter: (v: number) => String(v) }
        : { show: false },
    });
    xAxes.push(xBase('bottom', xMaj, 10, i === last));
    xAxes.push(xBase('bottom', xMin, 5, false));
    xAxes.push(xBase('top', xMaj, 10, false));
    xAxes.push(xBase('top', xMin, 5, false));
    const yBase = (position: string, ticks: number[], len: number, labels: boolean) => ({
      gridIndex: i, type: 'value', min: p.min, max: p.max, inverse: p.inverse, position,
      axisLine: { show: false }, splitLine: { show: false },
      axisTick: { show: true, inside: true, length: len, customValues: ticks, lineStyle: { color: '#000', width: 1 } },
      axisLabel: labels
        ? { show: true, customValues: yMaj, color: '#000', fontFamily: FONT, fontSize: 17, margin: 9, formatter: fmt }
        : { show: false },
    });
    yAxes.push(yBase('left', yMaj, 10, true));
    yAxes.push(yBase('left', yMin, 5, false));
    yAxes.push(yBase('right', yMaj, 10, false));
    yAxes.push(yBase('right', yMin, 5, false));
  });

  const ax = (i: number) => ({ xAxisIndex: 4 * i, yAxisIndex: 4 * i });

  const errSeries = (i: number, data: number[][], color: string, barColor: string, size: number, z: number) => ({
    type: 'custom', ...ax(i), data, encode: { x: 0, y: 1 }, clip: true, z, silent: true,
    renderItem: (params: any, api: any) => {
      const x = api.value(0), y = api.value(1), e = api.value(2);
      const c = api.coord([x, y]);
      const a = api.coord([x, y + e]);
      const b = api.coord([x, y - e]);
      const h = 3;
      return {
        type: 'group',
        children: [
          { type: 'line', shape: { x1: c[0], y1: a[1], x2: c[0], y2: b[1] }, style: { stroke: barColor, lineWidth: 1 } },
          { type: 'line', shape: { x1: c[0] - h, y1: a[1], x2: c[0] + h, y2: a[1] }, style: { stroke: barColor, lineWidth: 1 } },
          { type: 'line', shape: { x1: c[0] - h, y1: b[1], x2: c[0] + h, y2: b[1] }, style: { stroke: barColor, lineWidth: 1 } },
          { type: 'rect', shape: { x: c[0] - size / 2, y: c[1] - size / 2, width: size, height: size }, style: { fill: color } },
        ],
      };
    },
  });

  const curve = (i: number, data: number[][], color: string) => ({
    type: 'line', ...ax(i), data, symbol: 'rect', symbolSize: 6, showSymbol: true,
    lineStyle: { color, width: 1 }, itemStyle: { color }, silent: true,
  });

  const zeroLine = (i: number, color: string) => ({
    type: 'line', ...ax(i), data: [], silent: true,
    markLine: { silent: true, symbol: 'none', label: { show: false }, lineStyle: { color, width: 1, type: 'solid' }, data: [{ yAxis: 0 }] },
  });

  const series: any[] = [
    curve(0, MAG_A, RED),
    curve(0, MAG_B, BLACK),
    curve(0, MAG_C, GREEN),
    errSeries(1, SHIFT_A, RED, '#ff9a9a', 5, 2),
    errSeries(1, SHIFT_B, BLACK, '#888888', 5, 3),
    { type: 'scatter', ...ax(1), data: SHIFT_C, symbol: 'triangle', symbolSize: 7, itemStyle: { color: GREEN }, z: 4, silent: true },
    { type: 'line', ...ax(1), data: SHIFT_B, showSymbol: false, lineStyle: { color: BLACK, width: 1 }, z: 5, silent: true },
    { type: 'line', ...ax(2), data: CB_FIT, showSymbol: false, lineStyle: { color: BLACK, width: 2, type: [7, 4] }, z: 4, silent: true },
    errSeries(2, CB_PTS, BLACK, '#888888', 5, 3),
    { type: 'line', ...ax(3), data: AB_FIT, showSymbol: false, lineStyle: { color: RED, width: 2, type: [7, 4] }, z: 4, silent: true },
    errSeries(3, AB_PTS, RED, '#ff6060', 5, 3),
    zeroLine(4, BLACK),
    errSeries(4, RES_B, BLACK, BLACK, 5, 3),
    zeroLine(5, RED),
    errSeries(5, RES_A, RED, RED, 5, 3),
    zeroLine(6, GREEN),
    errSeries(6, RES_C, GREEN, GREEN, 5, 3),
  ];

  const txt = (text: string, x: number, y: number, color: string, size = 19, align = 'center') => ({
    type: 'text', x, y, silent: true, z: 100,
    style: { text, fill: color, font: `${size}px "${FONT}"`, textAlign: align, textVerticalAlign: 'middle' },
  });

  const graphic: any[] = [
    txt('Image A1 + A2', 647, 163, RED),
    txt('Image B', 643, 212, BLACK),
    txt('Image C', 638, 277, GREEN),
    txt('t', 315, 384, RED, 19, 'left'),
    txt('A', 322, 391, RED, 11, 'left'),
    txt('\u2212 35.3 days', 336, 384, RED, 19, 'left'),
    txt('t', 315, 407, GREEN, 19, 'left'),
    txt('C', 322, 414, GREEN, 11, 'left'),
    txt('\u2212 61.3 days', 336, 407, GREEN, 19, 'left'),
    txt('C\u2212B Microlensing Fits', 578, 451, '#333333'),
    txt('A1+A2\u2212B Microlensing Fits', 578, 523, RED),
    txt('Image B Residuals', 417, 638, BLACK),
    txt('Image A1+A2 Residuals', 417, 710, RED),
    txt('Image C Residuals', 417, 782, GREEN),
    txt('HJD \u2212 2450000 (days)', 435, 858, '#555555', 25),
    {
      type: 'text', x: 40, y: 455, rotation: Math.PI / 2, silent: true, z: 100,
      style: { text: 'magnitudes (relative units)', fill: '#555555', font: `25px "${FONT}"`, textAlign: 'center', textVerticalAlign: 'middle' },
    },
  ];

  return {
    animation: false,
    backgroundColor: '#ffffff',
    grid: grids,
    xAxis: xAxes,
    yAxis: yAxes,
    series,
    graphic,
  };
}

export default function App() {
  const ref = useRef<HTMLDivElement>(null);
  useEffect(() => {
    if (!ref.current) return;
    const chart = echarts.init(ref.current, undefined, { renderer: 'svg' });
    chart.setOption(buildOption() as any);
    return () => chart.dispose();
  }, []);
  return <div ref={ref} style={{ position: 'fixed', left: 0, top: 0, width: 830, height: 1075 }} />;
}
